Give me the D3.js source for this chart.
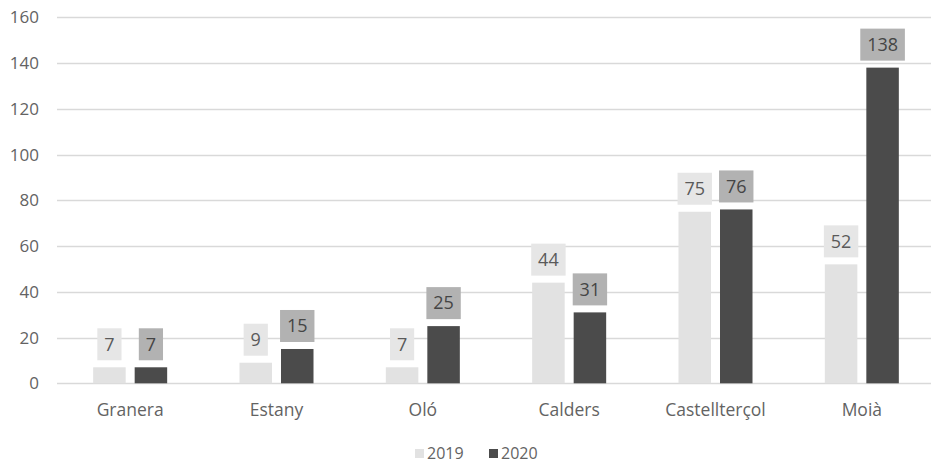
<!DOCTYPE html>
<html><head><meta charset="utf-8">
<script src="https://cdn.jsdelivr.net/npm/d3@7"></script>
<style>body{margin:0;background:#fff;}svg{display:block;font-family:"Open Sans",sans-serif;}</style>
</head><body><svg id="c" width="931" height="464"></svg>
<script>
const categories = ["Granera","Estany","Oló","Calders","Castellterçol","Moià"];
const series = ["2019","2020"];
const values2019 = [7,9,7,44,75,52];
const values2020 = [7,15,25,31,76,138];
const yTicks = [0,20,40,60,80,100,120,140,160];

const barColor = {"2019":"#e2e2e2","2020":"#4b4b4b"};
const boxColor = {"2019":"#e6e6e6","2020":"#b2b2b2"};
const textColor = {"2019":"#5a5a5a","2020":"#454545"};

const svg = d3.select("#c");
const x0 = d3.scaleBand().domain(categories).range([57,935]);
const y = d3.scaleLinear().domain([0,160]).range([383.3,17.3]);
const barW = 32.5, gap = 9;
const x1 = d3.scaleOrdinal().domain(series).range([-gap/2-barW, gap/2]);

// gridlines
svg.append("g").selectAll("line").data(yTicks).join("line")
  .attr("x1",57).attr("x2",931)
  .attr("y1",d=>Math.round(y(d))+0.5).attr("y2",d=>Math.round(y(d))+0.5)
  .attr("stroke","#d9d9d9").attr("stroke-width",1.5);

// y axis labels
const yAxis = d3.axisLeft(y).tickValues(yTicks).tickSize(0).tickPadding(0);
const ga = svg.append("g").attr("transform","translate(39,0)").call(yAxis);
ga.select(".domain").remove();
ga.selectAll("text").attr("font-size",17).attr("fill","#636363").attr("font-family","Open Sans, sans-serif");

// bars
const rows = categories.map((c,i)=>({cat:c, vals:[{s:"2019",v:values2019[i]},{s:"2020",v:values2020[i]}]}));
const g = svg.append("g").selectAll("g").data(rows).join("g")
  .attr("transform",d=>`translate(${x0(d.cat)+x0.bandwidth()/2},0)`);
g.selectAll("rect.bar").data(d=>d.vals).join("rect").attr("class","bar")
  .attr("x",d=>x1(d.s)).attr("width",barW)
  .attr("y",d=>y(d.v)).attr("height",d=>y(0)-y(d.v))
  .attr("fill",d=>barColor[d.s]);

// labels
const lab = g.selectAll("g.lab").data(d=>d.vals).join("g").attr("class","lab")
  .attr("transform",d=>`translate(${x1(d.s)+barW/2},${y(d.v)-7-16})`);
lab.each(function(d){
  const s = d3.select(this);
  const w = String(d.v).length*10.2 + 14;
  s.append("rect").attr("x",-w/2).attr("y",-16).attr("width",w).attr("height",32).attr("fill",boxColor[d.s]);
  s.append("text").attr("text-anchor","middle").attr("dy","0.35em").attr("font-size",18)
    .attr("fill",textColor[d.s]).text(d.v);
});

// x axis labels
const xAxis = d3.axisBottom(x0).tickSize(0).tickPadding(0);
const gx = svg.append("g").attr("transform","translate(0,404)").call(xAxis);
gx.select(".domain").remove();
gx.selectAll("text").attr("font-size",17.5).attr("fill","#636363").attr("font-family","Open Sans, sans-serif").attr("dy","0.71em");

// legend
const leg = svg.append("g").attr("transform","translate(415,0)");
const lx = [0,74];
series.forEach((s,i)=>{
  leg.append("rect").attr("x",lx[i]).attr("y",449).attr("width",9).attr("height",9).attr("fill",barColor[s]);
  leg.append("text").attr("x",lx[i]+12).attr("y",458.5).attr("font-size",16).attr("fill","#636363").text(s);
});
</script></body></html>
